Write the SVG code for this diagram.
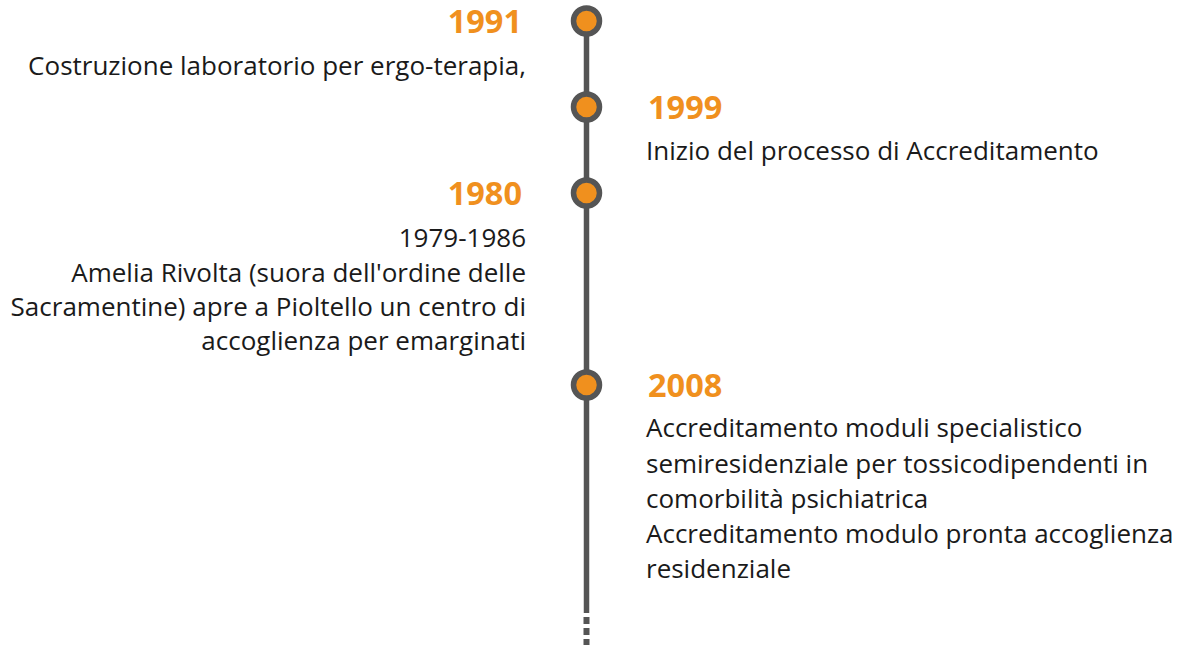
<svg xmlns="http://www.w3.org/2000/svg" width="1190" height="648" viewBox="0 0 1190 648">
<style>
.yr{font-family:"Open Sans","Liberation Sans",sans-serif;font-weight:bold;font-size:32.5px;fill:#F0901E}
.tx{font-family:"Open Sans","Liberation Sans",sans-serif;font-size:26px;fill:#1a1a1a}
.r{text-anchor:end}
.dot{fill:#F0901E;stroke:#555555;stroke-width:5.5}
</style>
<rect width="1190" height="648" fill="#ffffff"/>
<g id="connectors">
<line x1="586.5" y1="21" x2="586.5" y2="613" stroke="#555555" stroke-width="5.5"/>
<line x1="586.5" y1="617" x2="586.5" y2="645" stroke="#555555" stroke-width="6" stroke-dasharray="7,4"/>
</g>
<g id="event-1991">
<circle class="dot" cx="586.5" cy="21" r="13"/>
<text class="yr r" x="522" y="33">1991</text>
<text class="tx r" x="526" y="75">Costruzione laboratorio per ergo-terapia,</text>
</g>
<g id="event-1999">
<circle class="dot" cx="586.5" cy="107" r="13"/>
<text class="yr" x="648" y="119">1999</text>
<text class="tx" x="646" y="160">Inizio del processo di Accreditamento</text>
</g>
<g id="event-1980">
<circle class="dot" cx="586.5" cy="193" r="13"/>
<text class="yr r" x="522" y="205">1980</text>
<text class="tx r" x="526" y="247">1979-1986</text>
<text class="tx r" x="526" y="282">Amelia Rivolta (suora dell'ordine delle</text>
<text class="tx r" x="526" y="316">Sacramentine) apre a Pioltello un centro di</text>
<text class="tx r" x="526" y="350">accoglienza per emarginati</text>
</g>
<g id="event-2008">
<circle class="dot" cx="586.5" cy="385" r="13"/>
<text class="yr" x="648" y="397">2008</text>
<text class="tx" x="646" y="437">Accreditamento moduli specialistico</text>
<text class="tx" x="646" y="472.5">semiresidenziale per tossicodipendenti in</text>
<text class="tx" x="646" y="508">comorbilità psichiatrica</text>
<text class="tx" x="646" y="543">Accreditamento modulo pronta accoglienza</text>
<text class="tx" x="646" y="578">residenziale</text>
</g>
</svg>
